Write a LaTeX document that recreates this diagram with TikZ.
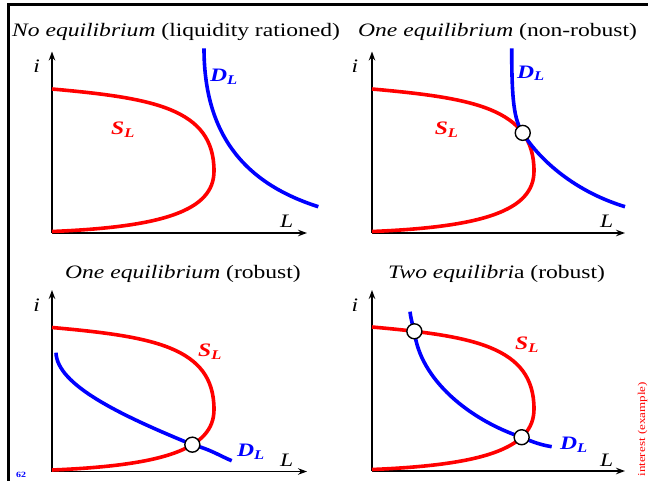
\documentclass[tikz,border=0pt]{standalone}
\usepackage{fontspec}
\setmainfont{Liberation Serif}[FakeStretch=1.24]
\usetikzlibrary{arrows.meta}
\begin{document}
\begin{tikzpicture}[x=1pt,y=-1pt,
 ax/.style={line width=1.3pt,-{Stealth[length=9pt,width=6.5pt]}},
 scurve/.style={red,line width=3.6pt},
 dcurve/.style={blue,line width=3.6pt},
 eq/.style={circle,draw=black,fill=white,line width=1.4pt,minimum size=15pt,inner sep=0pt},
 ttl/.style={anchor=base west,font=\fontsize{19}{22}\selectfont,inner sep=0pt},
 axl/.style={font=\fontsize{19}{22}\selectfont\itshape,inner sep=0pt},
 sl/.style={red,font=\fontsize{19}{22}\selectfont\bfseries\itshape,inner sep=0pt},
 dl/.style={blue,font=\fontsize{19}{22}\selectfont\bfseries\itshape,inner sep=0pt},
]
\useasboundingbox (0,0) rectangle (648,481);
% frame
\coordinate (FB) at (8.7,481);
\coordinate (FC) at (8.7,4.7);
\coordinate (FR) at (648,4.7);
\draw[line width=2.5pt] (FB) -- (FC) -- (FR);

% titles
\node[ttl] (T1) at (12,37) {\textit{No equilibrium} (liquidity rationed)};
\node[ttl] (T2) at (358,37) {\textit{One equilibrium} (non-robust)};
\node[ttl] (T3) at (65,279) {\textit{One equilibrium} (robust)};
\node[ttl] (T4) at (388,279) {\textit{Two equilibri}a (robust)};

% ---------- panel 1
\begin{scope}[shift={(52,233)}]
\coordinate (O1) at (0,0);
\coordinate (Y1) at (0,-181.5);
\coordinate (X1) at (255,0);
\draw[ax] (O1) -- (Y1);
\draw[ax] (O1) -- (X1);
\coordinate (S1a) at (0,-144);
\coordinate (S1n) at (162,-62);
\coordinate (S1b) at (0,-1.5);
\draw[scurve] (S1a) .. controls +(100,9) and +(0,-63) .. (S1n) .. controls +(0,40) and +(110,-4.5) .. (S1b);
\end{scope}
\node[axl] (i1) at (36.7,66.7) {i};
\node[axl] (L1) at (286.7,221.7) {L};
\node[sl] (SL1) at (123,130) {S\textsubscript{L}};
\coordinate (D1a) at (204,48.3);
\coordinate (D1b) at (318.3,206.7);
\draw[dcurve] (D1a) .. controls (204,140) and (250,185) .. (D1b);
\node[dl] (DL1) at (224,76.7) {D\textsubscript{L}};

% ---------- panel 2
\begin{scope}[shift={(372,233)}]
\coordinate (O2) at (0,0);
\coordinate (Y2) at (0,-181.5);
\coordinate (X2) at (253,0);
\draw[ax] (O2) -- (Y2);
\draw[ax] (O2) -- (X2);
\coordinate (S2a) at (0,-144);
\coordinate (S2n) at (162,-62);
\coordinate (S2b) at (0,-1.5);
\draw[scurve] (S2a) .. controls +(100,9) and +(0,-63) .. coordinate[pos=0.75] (E2) (S2n) .. controls +(0,40) and +(110,-4.5) .. (S2b);
\end{scope}
\node[axl] (i2) at (355,66.7) {i};
\node[axl] (L2) at (606.7,221.7) {L};
\node[sl] (SL2) at (446.7,130) {S\textsubscript{L}};
\coordinate (D2a) at (511.7,48.3);
\coordinate (D2b) at (625,206.7);
\draw[dcurve] (D2a) .. controls (511.7,100) and (514,120) .. (E2) .. controls (536,155) and (570,190) .. (D2b);
\node[dl] (DL2) at (531,73.3) {D\textsubscript{L}};
\node[eq] (EQ2) at (E2) {};

% ---------- panel 3
\begin{scope}[shift={(52,471.5)}]
\coordinate (O3) at (0,0);
\coordinate (Y3) at (0,-181.5);
\coordinate (X3) at (255,0);
\draw[ax] (O3) -- (Y3);
\draw[ax] (O3) -- (X3);
\coordinate (S3a) at (0,-144);
\coordinate (S3n) at (162,-62);
\coordinate (S3b) at (0,-1.5);
\draw[scurve] (S3a) .. controls +(100,9) and +(0,-63) .. (S3n) .. controls +(0,40) and +(110,-4.5) .. coordinate[pos=0.37] (E3) (S3b);
\end{scope}
\node[axl] (i3) at (36.7,305) {i};
\node[axl] (L3) at (286.7,460) {L};
\node[sl] (SL3) at (210,351.7) {S\textsubscript{L}};
\coordinate (D3a) at (56,352.7);
\coordinate (D3b) at (231.7,460.7);
\draw[dcurve] (D3a) .. controls (57,385) and (120,415) .. (E3) .. controls (212,450) and (220,456) .. (D3b);
\node[dl] (DL3) at (251,451.7) {D\textsubscript{L}};
\node[eq] (EQ3) at (E3) {};

% ---------- panel 4
\begin{scope}[shift={(372,471)}]
\coordinate (O4) at (0,0);
\coordinate (Y4) at (0,-181);
\coordinate (X4) at (253,0);
\draw[ax] (O4) -- (Y4);
\draw[ax] (O4) -- (X4);
\coordinate (S4a) at (0,-144);
\coordinate (S4n) at (162,-62);
\coordinate (S4b) at (0,-1.5);
\draw[scurve] (S4a) .. controls +(100,9) and +(0,-63) .. coordinate[pos=0.15] (E4a) (S4n) .. controls +(0,40) and +(110,-4.5) .. coordinate[pos=0.28] (E4b) (S4b);
\end{scope}
\node[axl] (i4) at (355,305) {i};
\node[axl] (L4) at (606.7,460) {L};
\node[sl] (SL4) at (527,345) {S\textsubscript{L}};
\coordinate (D4a) at (410,311.7);
\coordinate (D4b) at (551.7,446.7);
\draw[dcurve] (D4a) .. controls (411,320) and (413,326) .. (E4a) .. controls (420,380) and (470,420) .. (E4b) .. controls (535,443) and (542,445) .. (D4b);
\node[dl] (DL4) at (574,445) {D\textsubscript{L}};
\node[eq] (EQ4a) at (E4a) {};
\node[eq] (EQ4b) at (E4b) {};

% page number and side note
\node[blue,font=\fontsize{8}{9}\selectfont\bfseries,anchor=north west,inner sep=0pt] (pg) at (16,472.5) {62};
\node[red,font=\fontsize{10.5}{11}\selectfont,rotate=90,anchor=east,inner sep=0pt] (side) at (642.5,382) {interest (example)};
\end{tikzpicture}
\end{document}
